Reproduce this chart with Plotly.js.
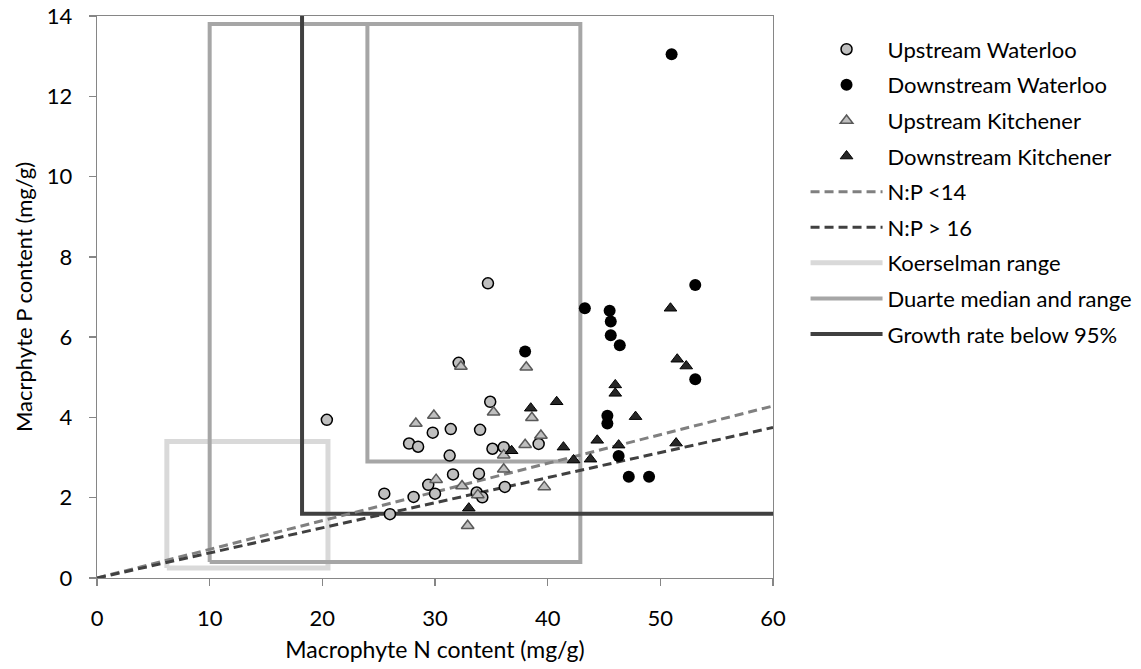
<!DOCTYPE html>
<html>
<head>
<meta charset="utf-8">
<script src="https://cdn.plot.ly/plotly-3.0.1.min.js"></script>
<style>html,body{margin:0;padding:0;background:#fff;}#chart{width:1141px;height:669px;}</style>
</head>
<body>
<div id="chart"></div>
<script>
// ---- data ----
const uwN = [20.4,25.5,26.0,27.7,28.5,28.1,29.4,29.8,30.0,31.4,31.3,31.6,32.1,33.7,34.2,33.9,34.0,34.7,34.9,35.1,36.1,36.2,39.2];
const uwP = [3.94,2.10,1.59,3.35,3.27,2.02,2.32,3.62,2.10,3.71,3.05,2.58,5.36,2.13,2.01,2.60,3.69,7.34,4.39,3.22,3.26,2.27,3.34];

const dwN = [38.0,43.3,45.5,45.6,45.6,46.4,45.3,45.3,46.3,47.2,49.0,51.0,53.1,53.1];
const dwP = [5.64,6.72,6.66,6.39,6.05,5.80,4.04,3.85,3.04,2.52,2.52,13.05,7.30,4.95];

const ukN = [28.3,29.9,30.1,32.3,32.4,32.9,33.8,35.2,36.1,36.1,38.0,38.1,38.6,39.4,39.7];
const ukP = [3.85,4.05,2.45,5.27,2.29,1.30,2.07,4.13,3.06,2.71,3.32,5.25,3.99,3.55,2.27];

const dkN = [33.0,36.8,38.5,40.8,41.4,42.3,43.8,44.4,46.0,46.0,46.3,47.8,50.9,51.5,52.3,51.4];
const dkP = [1.74,3.17,4.23,4.39,3.26,2.94,2.96,3.43,4.81,4.60,3.31,4.02,6.72,5.45,5.28,3.36];

const ratioLow = 14;   // N:P < 14
const ratioHigh = 16;  // N:P > 16
const ratioN = [0, 60];

const koerselmanN = [6.2, 20.5];
const koerselmanP = [0.25, 3.4];

const duarteN = [10.0, 24.0, 42.9];   // min, median, max
const duarteP = [0.4, 2.9, 13.8];     // min, median, max

const growthN = [18.2, 60];
const growthP = [1.6, 14];

const seriesNames = ['Upstream Waterloo','Downstream Waterloo','Upstream Kitchener','Downstream Kitchener',
  'N:P <14','N:P > 16','Koerselman range','Duarte median and range','Growth rate below 95%'];

// ---- build traces ----
const FONT = 'Lato, "Open Sans", sans-serif';

function rect(xs, ys){
  return {x:[xs[0],xs[1],xs[1],xs[0],xs[0]], y:[ys[0],ys[0],ys[1],ys[1],ys[0]]};
}
const kr = rect(koerselmanN, koerselmanP);
const dOuter = rect([duarteN[0], duarteN[2]], [duarteP[0], duarteP[2]]);
const duarteX = dOuter.x.concat([null, duarteN[1], duarteN[1], duarteN[2]]);
const duarteY = dOuter.y.concat([null, duarteP[2], duarteP[1], duarteP[1]]);

const traces = [
  {type:'scatter', mode:'lines', name:seriesNames[6], x:kr.x, y:kr.y,
   line:{color:'#d9d9d9', width:5}, legendrank:7, legendgroup:'g7', hoverinfo:'skip'},
  {type:'scatter', mode:'lines', name:seriesNames[7], x:duarteX, y:duarteY, connectgaps:false,
   line:{color:'#a6a6a6', width:4}, legendrank:8, legendgroup:'g8', hoverinfo:'skip'},
  {type:'scatter', mode:'lines', name:seriesNames[8],
   x:[growthN[0], growthN[0], growthN[1]], y:[growthP[1], growthP[0], growthP[0]],
   line:{color:'#404040', width:4}, legendrank:9, legendgroup:'g9', hoverinfo:'skip'},
  {type:'scatter', mode:'lines', name:seriesNames[4], x:ratioN, y:ratioN.map(v=>v/ratioLow),
   line:{color:'#808080', width:3, dash:'9px,5px'}, legendrank:5, legendgroup:'g5'},
  {type:'scatter', mode:'lines', name:seriesNames[5], x:ratioN, y:ratioN.map(v=>v/ratioHigh),
   line:{color:'#404040', width:3, dash:'9px,5px'}, legendrank:6, legendgroup:'g6'},
  {type:'scatter', mode:'markers', name:seriesNames[0], x:uwN, y:uwP,
   marker:{symbol:'circle', size:11, color:'#bfbfbf', line:{color:'#000000', width:1.5}}, legendrank:1, legendgroup:'g1'},
  {type:'scatter', mode:'markers', name:seriesNames[2], x:ukN, y:ukP,
   marker:{symbol:'triangle-up', size:11, color:'#bfbfbf', line:{color:'#595959', width:1.5}}, legendrank:3, legendgroup:'g3'},
  {type:'scatter', mode:'markers', name:seriesNames[1], x:dwN, y:dwP,
   marker:{symbol:'circle', size:12, color:'#000000', line:{color:'#000000', width:0}}, legendrank:2, legendgroup:'g2'},
  {type:'scatter', mode:'markers', name:seriesNames[3], x:dkN, y:dkP,
   marker:{symbol:'triangle-up', size:11, color:'#262626', line:{color:'#000000', width:1}}, legendrank:4, legendgroup:'g4'}
];

const axisCommon = {
  showline:true, linecolor:'#868686', linewidth:1.3, mirror:true,
  ticks:'outside', ticklen:7, tickcolor:'#868686', tickwidth:1.3,
  showgrid:false, zeroline:false, fixedrange:true,
  tickfont:{family:FONT, size:22, color:'#000'}
};

const layout = {
  width:1141, height:669,
  margin:{l:97, r:368, t:16, b:91, pad:0, autoexpand:false},
  paper_bgcolor:'#ffffff', plot_bgcolor:'#ffffff',
  font:{family:FONT, color:'#000'},
  showlegend:true,
  legend:{xref:'container', yref:'container', x:0.706, xanchor:'left', y:0.9575, yanchor:'top', itemwidth:72,
          font:{family:FONT, size:22, color:'#000'}, tracegroupgap:4,
          bgcolor:'rgba(0,0,0,0)', itemclick:false, itemdoubleclick:false},
  xaxis:Object.assign({}, axisCommon, {range:[0,60], dtick:10, ticklabelstandoff:13,
    title:{text:'Macrophyte N content (mg/g)', font:{family:FONT, size:23, color:'#000'}, standoff:12}}),
  yaxis:Object.assign({}, axisCommon, {range:[0,14], dtick:2, ticklabelstandoff:12,
    title:{text:'Macrphyte P content (mg/g)', font:{family:FONT, size:22, color:'#000'}, standoff:8}})
};

Plotly.newPlot('chart', traces, layout, {displayModeBar:false, staticPlot:true});
</script>
</body>
</html>
